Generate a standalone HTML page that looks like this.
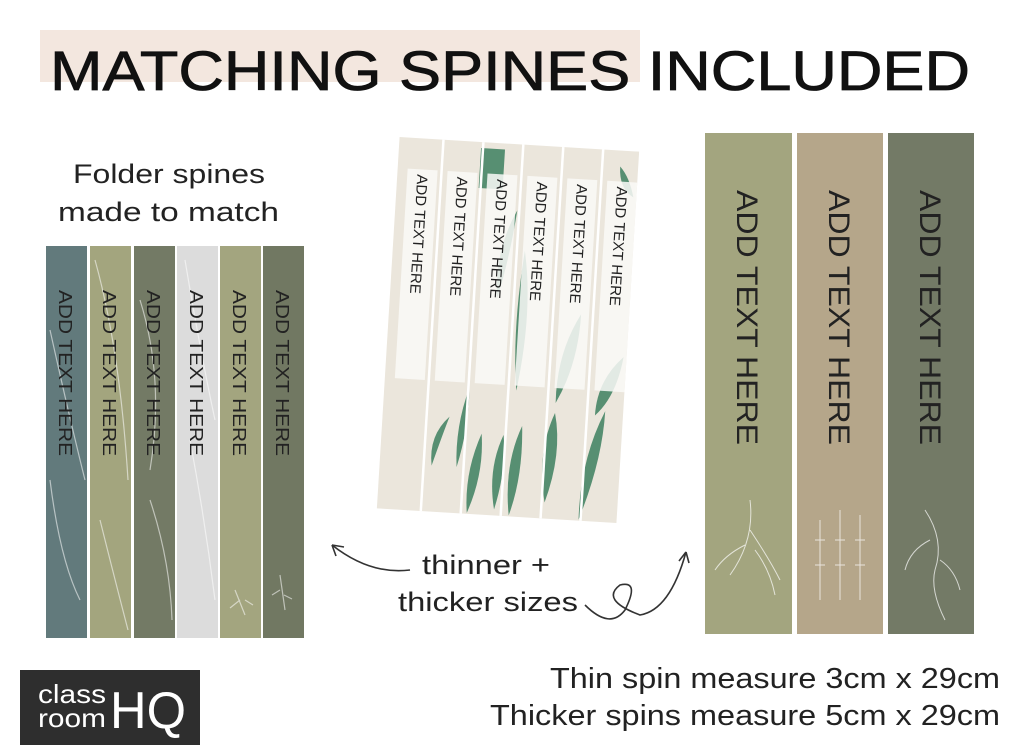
<!DOCTYPE html>
<html><head><style>
body{margin:0;background:#fff;}
svg{display:block;font-family:"Liberation Sans",sans-serif;}
</style></head><body>
<svg width="1024" height="745" viewBox="0 0 1024 745">
<rect x="40" y="30" width="600" height="52" fill="#f3e7df"/>
<text x="50" y="90" font-size="56" fill="#111" stroke="#111" stroke-width="0.8" textLength="920" lengthAdjust="spacingAndGlyphs">MATCHING SPINES INCLUDED</text>

<text x="73" y="183" font-size="27" fill="#222" textLength="192" lengthAdjust="spacingAndGlyphs">Folder spines</text>
<text x="58" y="221" font-size="27" fill="#222" textLength="221" lengthAdjust="spacingAndGlyphs">made to match</text>

<!-- left spines -->
<g>
<rect x="46" y="246" width="41" height="392" fill="#627a7c"/>
<rect x="90" y="246" width="41" height="392" fill="#a3a57e"/>
<rect x="134" y="246" width="41" height="392" fill="#737a65"/>
<rect x="177" y="246" width="41" height="392" fill="#dcdcdc"/>
<rect x="220" y="246" width="41" height="392" fill="#a3a57f"/>
<rect x="263" y="246" width="41" height="392" fill="#717862"/>
<g stroke="#fff" stroke-opacity="0.55" fill="none" stroke-width="1.2">
<path d="M50 330 Q70 420 85 480 M50 480 Q60 560 80 600 M95 260 Q120 350 128 480 M140 300 Q165 380 150 470 M150 500 Q170 560 172 620 M185 260 Q200 350 215 420 M190 440 Q205 520 215 600 M100 520 Q115 580 128 630"/>
<path d="M235 590 l10 25 M240 600 l-10 8 M245 600 l8 5 M280 575 l5 35 M280 590 l-8 5 M284 595 l8 4"/>
</g>
<g font-size="18" fill="#222">
<text transform="translate(59,290) rotate(90)" textLength="166" lengthAdjust="spacingAndGlyphs">ADD TEXT HERE</text>
<text transform="translate(103,290) rotate(90)" textLength="166" lengthAdjust="spacingAndGlyphs">ADD TEXT HERE</text>
<text transform="translate(147,290) rotate(90)" textLength="166" lengthAdjust="spacingAndGlyphs">ADD TEXT HERE</text>
<text transform="translate(190,290) rotate(90)" textLength="166" lengthAdjust="spacingAndGlyphs">ADD TEXT HERE</text>
<text transform="translate(233,290) rotate(90)" textLength="166" lengthAdjust="spacingAndGlyphs">ADD TEXT HERE</text>
<text transform="translate(276,290) rotate(90)" textLength="166" lengthAdjust="spacingAndGlyphs">ADD TEXT HERE</text>
</g>
</g>

<!-- middle rotated sheet -->
<g transform="rotate(3.5 508 330)">
<rect x="388" y="144" width="240" height="372" fill="#ebe6dc"/>
<g fill="#3e8060" opacity="0.85">
<rect x="470" y="150" width="24" height="40"/>
<path d="M465 470 q10 -40 8 -80 q-12 40 -8 80z"/>
<path d="M505 510 q10 -40 5 -75 q-14 35 -5 75z"/>
<path d="M555 500 q15 -50 5 -90 q-16 40 -5 90z"/>
<path d="M590 515 q20 -60 20 -110 q-22 50 -20 110z"/>
<path d="M520 250 q12 60 0 140 q-8 -60 0 -140z"/>
<path d="M440 470 q10 -35 15 -50 q-20 20 -15 50z"/>
<path d="M478 515 q-5 -40 10 -80 q5 40 -10 80z"/>
<path d="M520 515 q-8 -50 8 -90 q4 50 -8 90z"/>
<path d="M600 410 q20 -20 25 -60 q-25 25 -25 60z"/>
<path d="M560 400 q20 -40 20 -90 q-22 40 -20 90z"/>
<path d="M495 300 q10 -40 15 -90 q-20 40 -15 90z"/>
<path d="M610 160 q10 10 15 30 q-15 -8 -15 -30z"/>
</g>
<g fill="#fbfaf8" opacity="0.85">
<rect x="398" y="175" width="30" height="210"/>
<rect x="438" y="175" width="30" height="210"/>
<rect x="478" y="175" width="30" height="210"/>
<rect x="518" y="175" width="30" height="210"/>
<rect x="558" y="175" width="30" height="210"/>
<rect x="598" y="175" width="30" height="210"/>
</g>
<g stroke="#fff" stroke-width="2.5">
<line x1="432" y1="144" x2="432" y2="516"/><line x1="472" y1="144" x2="472" y2="516"/>
<line x1="512" y1="144" x2="512" y2="516"/><line x1="552" y1="144" x2="552" y2="516"/>
<line x1="592" y1="144" x2="592" y2="516"/>
</g>
<g font-size="15" fill="#222">
<text transform="translate(408,180) rotate(90)">ADD TEXT HERE</text>
<text transform="translate(448,180) rotate(90)">ADD TEXT HERE</text>
<text transform="translate(488,180) rotate(90)">ADD TEXT HERE</text>
<text transform="translate(528,180) rotate(90)">ADD TEXT HERE</text>
<text transform="translate(568,180) rotate(90)">ADD TEXT HERE</text>
<text transform="translate(608,180) rotate(90)">ADD TEXT HERE</text>
</g>
</g>

<!-- right spines -->
<rect x="705" y="133" width="87" height="501" fill="#a3a57f"/>
<rect x="797" y="133" width="86" height="501" fill="#b5a68a"/>
<rect x="888" y="133" width="86" height="501" fill="#737a66"/>
<g stroke="#fff" stroke-opacity="0.7" fill="none" stroke-width="1">
<path d="M750 500 q5 40 -20 75 M750 530 q20 30 30 50 M745 545 q-20 10 -30 25 M755 550 q15 20 20 45"/>
<path d="M820 520 v80 M840 510 v90 M860 515 v85 M815 540 h10 M835 540 h10 M855 540 h10 M815 565 h10 M835 565 h10 M855 565 h10"/>
<path d="M925 510 q20 30 10 60 q-5 20 10 50 M930 540 q-20 10 -25 30 M940 560 q15 10 20 30"/>
</g>
<g font-size="30" fill="#222">
<text transform="translate(737,190) rotate(90)" textLength="255" lengthAdjust="spacingAndGlyphs">ADD TEXT HERE</text>
<text transform="translate(829,190) rotate(90)" textLength="255" lengthAdjust="spacingAndGlyphs">ADD TEXT HERE</text>
<text transform="translate(920,190) rotate(90)" textLength="255" lengthAdjust="spacingAndGlyphs">ADD TEXT HERE</text>
</g>

<!-- arrows -->
<g stroke="#333" stroke-width="1.6" fill="none">
<path d="M410 570 Q370 575 332 545"/>
<path d="M332 545 l12 2 M332 545 l4 11"/>
<path d="M585 605 Q610 630 625 610 Q640 580 620 585 Q600 600 640 615 Q670 610 686 552"/>
<path d="M686 552 l-7 9 M686 552 l3 11"/>
</g>
<text x="422" y="574" font-size="27" fill="#222" textLength="128" lengthAdjust="spacingAndGlyphs">thinner +</text>
<text x="398" y="611" font-size="27" fill="#222" textLength="180" lengthAdjust="spacingAndGlyphs">thicker sizes</text>

<text x="550" y="688" font-size="29" fill="#222" textLength="450" lengthAdjust="spacingAndGlyphs">Thin spin measure 3cm x 29cm</text>
<text x="490" y="725" font-size="29" fill="#222" textLength="510" lengthAdjust="spacingAndGlyphs">Thicker spins measure 5cm x 29cm</text>

<!-- logo -->
<rect x="20" y="670" width="180" height="75" fill="#2e2e2e"/>
<text x="38" y="703" font-size="26" fill="#fff" textLength="68" lengthAdjust="spacingAndGlyphs">class</text>
<text x="38" y="727" font-size="26" fill="#fff" textLength="68" lengthAdjust="spacingAndGlyphs">room</text>
<text x="110" y="728" font-size="52" fill="#fff" textLength="76" lengthAdjust="spacingAndGlyphs">HQ</text>
</svg>
</body></html>
